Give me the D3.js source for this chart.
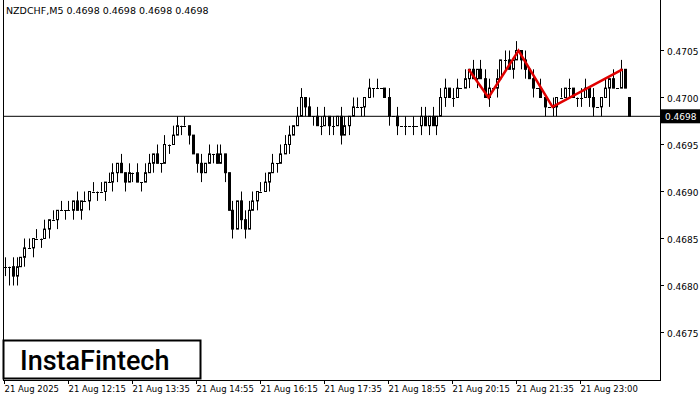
<!DOCTYPE html><html><head><meta charset="utf-8">
<script src="https://cdn.jsdelivr.net/npm/d3@7"></script>
<style>body{margin:0;background:#fff}svg{display:block;font-family:"DejaVu Sans",sans-serif}</style></head><body>
<svg id="c" width="700" height="400"></svg>
<script>
// prices in pips above 0.4600
const opens=[82,82,82,81,82,83,84,84,85,85, 85,86,87,87,88, 88,88,88,89,88, 89,89,90,90,90, 90,91,91,92,93, 92,91,92,92,91, 91,92,93,94,93, 93,95,95,96,97, 97,97,96,94,93, 92,93,94,94,93, 94,92,88,86,89, 87,86,88,89,90, 90,91,92,93,93, 94,95,96,97,98, 100,99,98,98,97, 97,98,97,97,98, 96,97,98,99,99, 99,100,101,101,101, 101,100,98,98,97, 97,97,97,97,97, 98,97,98,97,98, 100,101,100,100,101, 101,102,103,102,103, 102,100,101,101,102, 104,104,103,104,105, 104,103,102,101,101, 100,99,99,99,100, 100,101,101,100,100, 100,101,100,99,99, 100,101,102,101,101, 103,100];
const closes=[82,82,81,82,83,84,84,85,85,85, 86,87,87,88,88, 88,88,89,88,89, 89,90,90,90,90, 91,91,92,93,92, 91,92,92,91,91, 92,93,94,93,93, 95,95,96,97,97, 97,96,94,93,92, 93,94,94,93,94, 92,88,86,89,87, 86,88,89,90,90, 91,92,93,93,94, 95,96,97,98,100, 99,98,98,97,97, 98,97,97,98,96, 97,98,99,99,99, 100,101,101,101,101, 100,98,98,97,97, 97,97,97,97,98, 97,98,97,98,100, 101,100,100,101,101, 102,103,102,103,102, 100,101,101,102,104, 104,103,104,105,104, 103,102,101,101,100, 99,99,99,100,100, 101,101,100,100,100, 101,100,99,99,100, 101,102,101,101,103, 101,98];
const upWick=[1,0,1,1,0,1,1,0,1,0, 1,0,1,0,1, 0,1,0,1,0, 1,0,1,0,1, 0,1,1,0,1, 0,1,0,1,0, 1,1,0,1,0, 1,0,1,1,0, 1,0,0,0,1, 0,1,0,1,1, 0,0,1,0,1, 1,1,1,0,1, 1,0,1,0,1, 1,1,0,1,1, 0,1,0,1,1, 1,0,1,0,1, 1,0,1,1,0, 0,1,0,1,0, 0,1,0,1,0, 1,0,1,0,1, 1,0,1,0,1, 1,0,1,1,0, 1,0,1,0,1, 1,1,0,1,0, 1,1,0,1,0, 1,0,1,0,1, 0,0,1,0,1, 0,1,0,0,1, 1,0,1,0,0, 1,0,1,0,1, 0,0];
const downWick=[1,2,1,1,0,1,0,1,0,1, 0,1,0,1,0, 1,0,1,0,1, 0,1,0,1,0, 1,0,1,1,0, 1,0,1,0,1, 0,0,1,0,1, 0,1,0,0,1, 0,1,0,1,1, 0,0,1,0,0, 1,0,1,0,1, 1,0,0,1,0, 0,1,0,1,0, 0,1,0,0,0, 1,0,1,0,1, 0,1,1,0,1, 0,1,0,0,1, 1,0,1,0,0, 0,1,0,1,0, 1,0,1,0,1, 0,1,0,1,0, 1,0,1,0,0, 0,1,0,1,0, 0,1,0,1,0, 1,0,1,0,1, 1,0,1,0,0, 1,0,1,1,0, 0,1,0,1,1, 0,1,1,0,1, 0,2];
const patternIdx=[116,121,128.5,137,154.5];
const patternVal=[103,100,105,99,103];
const priceTicks=[75,80,85,90,95,100,105];
const timeLabels=["21 Aug 2025","21 Aug 12:15","21 Aug 13:35","21 Aug 14:55","21 Aug 16:15","21 Aug 17:35","21 Aug 18:55","21 Aug 20:15","21 Aug 21:35","21 Aug 23:00"];
const timeIdx=[0,16,32,48,64,80,96,112,128,144];
const lastPrice=98;

const svg=d3.select("#c");
const n=closes.length;
const x=d3.scaleLinear().domain([0,156]).range([4.5,628.5]);
const y=d3.scaleLinear().domain([100,105]).range([97.5,50.5]);
const fmt=v=>(0.46+v/10000).toFixed(4);

svg.append("line").attr("x1",3.5).attr("x2",3.5).attr("y1",0).attr("y2",380).attr("stroke","#000");
svg.append("line").attr("x1",660.5).attr("x2",660.5).attr("y1",0).attr("y2",380).attr("stroke","#000");
svg.append("line").attr("x1",3).attr("x2",661).attr("y1",380.5).attr("y2",380.5).attr("stroke","#000");

priceTicks.forEach(t=>{
  svg.append("line").attr("x1",660).attr("x2",664).attr("y1",y(t)).attr("y2",y(t)).attr("stroke","#000");
  svg.append("text").attr("x",667).attr("y",y(t)+4).attr("font-size",9).text(fmt(t));
});
timeIdx.forEach((t,i)=>{
  svg.append("line").attr("x1",x(t)).attr("x2",x(t)).attr("y1",380).attr("y2",384).attr("stroke","#000");
  svg.append("text").attr("x",x(t)).attr("y",392).attr("font-size",8.5).text(timeLabels[i]);
});

svg.append("line").attr("x1",3).attr("x2",660).attr("y1",y(lastPrice)).attr("y2",y(lastPrice)).attr("stroke","#000");
svg.append("rect").attr("x",661).attr("y",y(lastPrice)-7).attr("width",39).attr("height",14).attr("fill","#000");
svg.append("text").attr("x",665).attr("y",y(lastPrice)+4).attr("font-size",9).attr("fill","#fff").text(fmt(lastPrice));

const g=svg.append("g");
for(let i=0;i<n;i++){
  const o=opens[i],c=closes[i],hi=Math.max(o,c)+(upWick[i]||0),lo=Math.min(o,c)-(downWick[i]||0);
  const cx=Math.round(x(i))+0.5;
  g.append("line").attr("x1",cx).attr("x2",cx).attr("y1",y(hi)).attr("y2",y(lo)).attr("stroke","#000");
  if(o===c){
    g.append("line").attr("x1",cx-1.5).attr("x2",cx+1.5).attr("y1",Math.round(y(o))+0.5).attr("y2",Math.round(y(o))+0.5).attr("stroke","#000");
  } else {
    const top=y(Math.max(o,c)),bot=y(Math.min(o,c));
    g.append("rect").attr("x",cx-1).attr("y",top).attr("width",2).attr("height",bot-top)
     .attr("fill",c>o?"#fff":"#000").attr("stroke","#000");
  }
}
svg.append("path").attr("d",d3.line().x(d=>x(d)).y((d,i)=>y(patternVal[i]))(patternIdx))
  .attr("fill","none").attr("stroke","#e00000").attr("stroke-width",2.5);

svg.append("text").attr("x",6).attr("y",14).attr("font-size",9.5).text("NZDCHF,M5  0.4698 0.4698 0.4698 0.4698");
svg.append("rect").attr("x",3.5).attr("y",340.5).attr("width",197).attr("height",38).attr("fill","#fff").attr("stroke","#000").attr("stroke-width",2);
svg.append("text").attr("x",20).attr("y",370).attr("font-size",27).attr("font-family","Roboto, sans-serif").attr("font-weight",500).text("InstaFintech");
</script></body></html>
